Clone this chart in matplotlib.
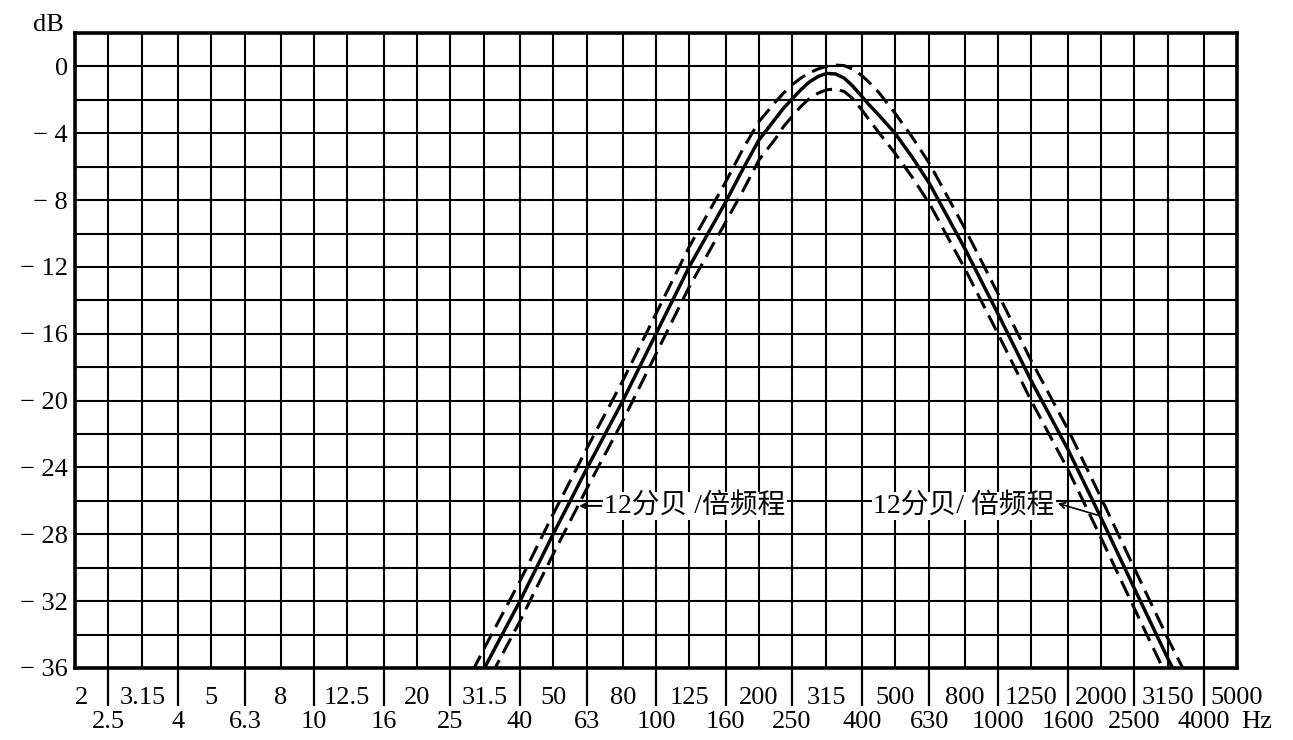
import matplotlib
matplotlib.use('Agg')
import matplotlib.pyplot as plt

plt.rcParams['font.family'] = ['Liberation Serif', 'Noto Sans CJK SC']

# 1/3-octave band centres used for the grid (Hz)
band_freqs = [2, 2.5, 3.15, 4, 5, 6.3, 8, 10, 12.5, 16, 20, 25, 31.5, 40, 50,
              63, 80, 100, 125, 160, 200, 250, 315, 400, 500, 630, 800, 1000,
              1250, 1600, 2000, 2500, 3150, 4000, 5000]
top_row = band_freqs[0::2]
bottom_row = band_freqs[1::2]

db_ticks = list(range(-36, 1, 4))
db_labels = ['0' if v == 0 else '\u2212 {}'.format(-v) for v in db_ticks]

# curve values (denser around the peak)
curve_freqs = [25, 31.5, 40, 50, 63, 80, 100, 125, 160, 180, 200, 224, 236,
               250, 265, 280, 298, 315, 335, 355, 375, 400, 420, 450, 500, 560,
               630, 800, 1000, 1250, 1600, 2000, 2500, 3150, 4000]
nominal_db = [-40, -36, -32, -28, -24, -20, -16, -12, -8.1, -6.1, -4.4, -3.1,
              -2.5, -1.95, -1.4, -0.95, -0.6, -0.42, -0.45, -0.7, -1.15, -1.8,
              -2.3, -2.95, -4.0, -5.4, -7.0, -10.9, -14.8, -18.8, -22.9, -27.0,
              -31.2, -35.5, -39.7]
upper_db = [-38.8, -34.8, -30.8, -26.8, -22.8, -18.8, -14.8, -10.8, -6.9, -4.9,
            -3.3, -2.1, -1.6, -1.1, -0.7, -0.4, -0.15, 0.0, 0.08, 0.05, -0.15,
            -0.55, -0.95, -1.6, -2.8, -4.2, -5.8, -9.7, -13.6, -17.6, -21.7,
            -25.8, -30.0, -34.3, -38.5]
lower_db = [-41.2, -37.2, -33.2, -29.2, -25.2, -21.2, -17.2, -13.2, -9.3, -7.4,
            -5.6, -4.3, -3.6, -3.0, -2.4, -1.95, -1.6, -1.4, -1.35, -1.5, -1.9,
            -2.6, -3.2, -4.0, -5.2, -6.6, -8.2, -12.1, -16.0, -20.0, -24.1,
            -28.2, -32.4, -36.7, -40.9]

left_text = '12分贝 /倍频程'
right_text = '12分贝/ 倍频程'

W, H = 1293, 740
fig = plt.figure(figsize=(W / 100, H / 100), dpi=100)
ax = fig.add_axes([75 / W, 1 - 668 / H, (1237 - 75) / W, (668 - 33) / H])

ax.set_xscale('log')
ax.set_xlim(2, 5000)
ax.set_ylim(-36, 2)

# x ticks: labels alternate between two rows
ax.set_xticks(top_row)
ax.set_xticklabels(['{:g}'.format(f) for f in top_row])
ax.set_xticks(bottom_row, minor=True)
ax.set_xticklabels(['{:g}'.format(f) for f in bottom_row], minor=True)
ax.tick_params(axis='x', which='major', length=0, pad=14, labelsize=19)
ax.tick_params(axis='x', which='minor', length=27, width=1.6, pad=4,
               labelsize=19, direction='out', color='black')
ax.get_xticklabels()[0].set_horizontalalignment('left')

ax.set_yticks(db_ticks)
ax.set_yticklabels(db_labels)
ax.set_yticks([v for v in range(-36, 3, 2) if v % 4], minor=True)
ax.tick_params(axis='y', which='both', length=0, pad=5, labelsize=19)

ax.grid(which='both', color='black', lw=1.5)
ax.set_axisbelow(True)
for sp in ax.spines.values():
    sp.set_linewidth(2.6)

# curves
ax.plot(curve_freqs, nominal_db, color='black', lw=2.5)
ax.plot(curve_freqs, upper_db, color='black', lw=2.2, ls=(0, (5.5, 2.6)))
ax.plot(curve_freqs, lower_db, color='black', lw=2.2, ls=(0, (5.5, 2.6)))

# slope annotations
box = dict(facecolor='white', edgecolor='none', pad=1)
ax.text(70.5, -26.3, left_text, fontsize=20, ha='left', va='center',
        bbox=box, zorder=4)
ax.annotate('', xy=(58.5, -26.3), xytext=(70.5, -26.3), zorder=4,
            arrowprops=dict(arrowstyle='->', color='black', lw=1.4))
ax.text(1460, -26.3, right_text, fontsize=20, ha='right', va='center',
        bbox=box, zorder=4)
ax.annotate('', xy=(1470, -26.1), xytext=(1990, -26.9), zorder=4,
            arrowprops=dict(arrowstyle='->', color='black', lw=1.2))

fig.text(48 / W, 1 - 25 / H, 'dB', ha='center', va='center', fontsize=19)
fig.text(1257 / W, 1 - 722 / H, 'Hz', ha='center', va='center', fontsize=19)

fig.savefig('out.png', dpi=100)
